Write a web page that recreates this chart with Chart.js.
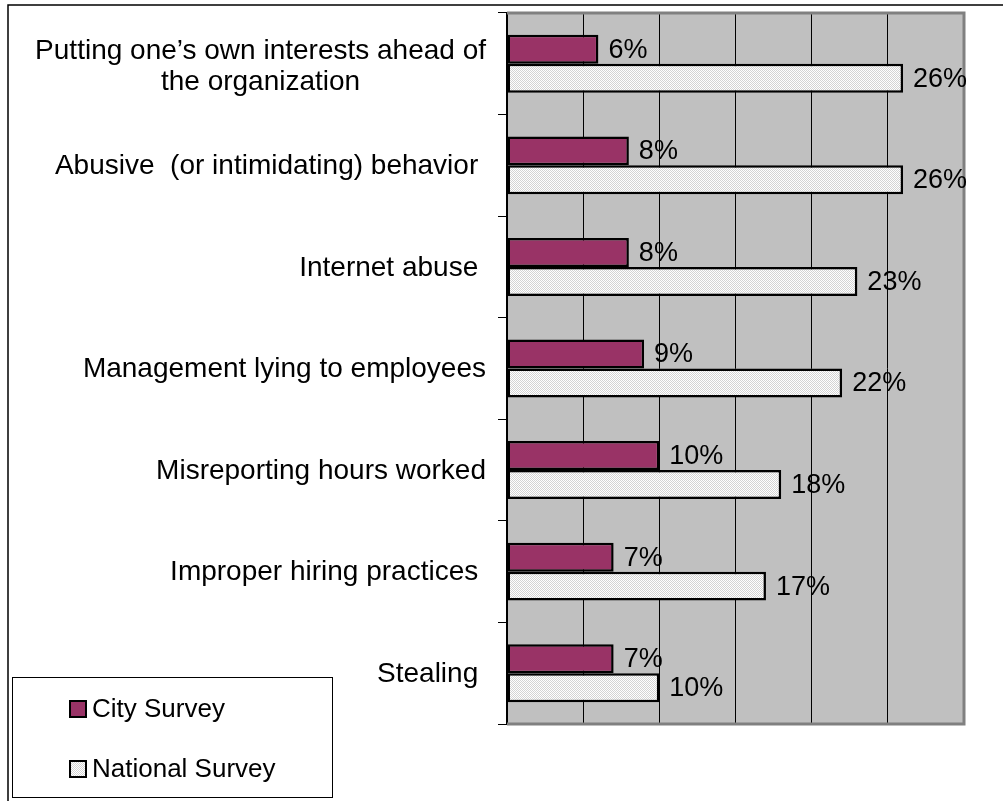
<!DOCTYPE html>
<html>
<head>
<meta charset="utf-8">
<style>
  html, body { margin: 0; padding: 0; background: #fff; }
  #chart { display: block; }
</style>
<script src="https://cdn.jsdelivr.net/npm/chart.js@4/dist/chart.umd.min.js"></script>
</head>
<body>
<canvas id="chart" width="1008" height="801"></canvas>
<script>
// Data
const categories = [
    ['Putting one\u2019s own interests ahead of', 'the organization'],
    'Abusive  (or intimidating) behavior ',
    'Internet abuse ',
    'Management lying to employees',
    'Misreporting hours worked',
    'Improper hiring practices ',
    'Stealing '
];
const cityValues = [6, 8, 8, 9, 10, 7, 7];
const nationalValues = [26, 26, 23, 22, 18, 17, 10];
const seriesNames = ['City Survey', 'National Survey'];
const axisMax = 30;
const axisStep = 5;

const cityColor = '#993366';
const plotColor = '#C0C0C0';
const valueFont = '27px "Liberation Sans", Arial, sans-serif';
const labelFont = '28px "Liberation Sans", Arial, sans-serif';
const legendFont = '26px "Liberation Sans", Arial, sans-serif';

// light stipple fill used for the national bars
function makeStipple() {
    const c = document.createElement('canvas');
    c.width = 2;
    c.height = 2;
    const g = c.getContext('2d');
    g.fillStyle = '#ffffff';
    g.fillRect(0, 0, 2, 2);
    g.fillStyle = '#d4d4d4';
    g.fillRect(0, 0, 1, 1);
    g.fillRect(1, 1, 1, 1);
    return g.createPattern(c, 'repeat');
}

const ctx = document.getElementById('chart').getContext('2d');
const stipple = makeStipple();

const framePlugin = {
    id: 'frame',
    beforeDraw(chart) {
        const c = chart.ctx;
        const a = chart.chartArea;
        c.save();
        // outer frame (only top and left edges are visible)
        c.strokeStyle = '#000';
        c.lineWidth = 1.5;
        c.beginPath();
        c.moveTo(8, 801);
        c.lineTo(8, 5);
        c.lineTo(1003, 5);
        c.stroke();
        // plot background
        c.fillStyle = plotColor;
        c.fillRect(a.left, a.top, a.right - a.left, a.bottom - a.top);
        c.restore();
    },
    afterDatasetsDraw(chart) {
        const c = chart.ctx;
        const a = chart.chartArea;
        c.save();
        // grey plot border on top, right and bottom
        c.strokeStyle = '#808080';
        c.lineWidth = 3;
        c.beginPath();
        c.moveTo(a.left, a.top);
        c.lineTo(a.right, a.top);
        c.lineTo(a.right, a.bottom);
        c.lineTo(a.left, a.bottom);
        c.stroke();

        // value labels at the end of each bar
        c.fillStyle = '#000';
        c.font = valueFont;
        c.textAlign = 'left';
        c.textBaseline = 'middle';
        chart.data.datasets.forEach((ds, di) => {
            const meta = chart.getDatasetMeta(di);
            meta.data.forEach((bar, i) => {
                c.fillText(ds.data[i] + '%', bar.x + 10, bar.y + 1);
            });
        });

        // category labels, right aligned next to the axis
        const yScale = chart.scales.y;
        const right = a.left - 21;
        c.font = labelFont;
        categories.forEach((label, i) => {
            const y = yScale.getPixelForValue(i);
            if (Array.isArray(label)) {
                const lineH = 31;
                const widths = label.map(l => c.measureText(l).width);
                const maxW = Math.max(...widths);
                const top = y - (label.length - 1) * lineH / 2 + 3;
                c.textAlign = 'center';
                label.forEach((line, j) => {
                    c.fillText(line, right - maxW / 2, top + j * lineH);
                });
            } else {
                c.textAlign = 'right';
                c.fillText(label, right, y + 1);
            }
        });

        // legend box
        c.fillStyle = '#fff';
        c.fillRect(12, 677, 320, 120);
        c.strokeStyle = '#000';
        c.lineWidth = 1;
        c.strokeRect(12.5, 677.5, 320, 120);
        const fills = [cityColor, stipple];
        const rows = [709, 769];
        c.font = legendFont;
        c.textAlign = 'left';
        c.textBaseline = 'middle';
        seriesNames.forEach((name, i) => {
            c.fillStyle = fills[i];
            c.fillRect(70, rows[i] - 8, 16, 16);
            c.strokeStyle = '#000';
            c.lineWidth = 2;
            c.strokeRect(70, rows[i] - 8, 16, 16);
            c.fillStyle = '#000';
            c.fillText(name, 92, rows[i] + 1);
        });
        c.restore();
    }
};

new Chart(ctx, {
    type: 'bar',
    data: {
        labels: categories,
        datasets: [
            {
                label: seriesNames[0],
                data: cityValues,
                backgroundColor: cityColor,
                borderColor: '#000',
                borderWidth: 2.5,
                borderSkipped: false,
                barPercentage: 1,
                categoryPercentage: 0.57
            },
            {
                label: seriesNames[1],
                data: nationalValues,
                backgroundColor: stipple,
                borderColor: '#000',
                borderWidth: 2.5,
                borderSkipped: false,
                barPercentage: 1,
                categoryPercentage: 0.57
            }
        ]
    },
    options: {
        indexAxis: 'y',
        responsive: false,
        animation: false,
        devicePixelRatio: 1,
        layout: {
            padding: { top: 13, right: 44, bottom: 77, left: 0 }
        },
        plugins: {
            legend: { display: false },
            tooltip: { enabled: false }
        },
        scales: {
            x: {
                min: 0,
                max: axisMax,
                ticks: { display: false, stepSize: axisStep },
                grid: { color: '#000', lineWidth: 1, drawTicks: false },
                border: { display: false },
                afterFit(scale) { scale.height = 0; }
            },
            y: {
                ticks: { display: false },
                grid: {
                    drawOnChartArea: false,
                    drawTicks: true,
                    tickLength: 9,
                    color: '#000',
                    lineWidth: 1
                },
                border: { display: true, color: '#000', width: 2 },
                afterFit(scale) { scale.width = 507; }
            }
        }
    },
    plugins: [framePlugin]
});
</script>
</body>
</html>
